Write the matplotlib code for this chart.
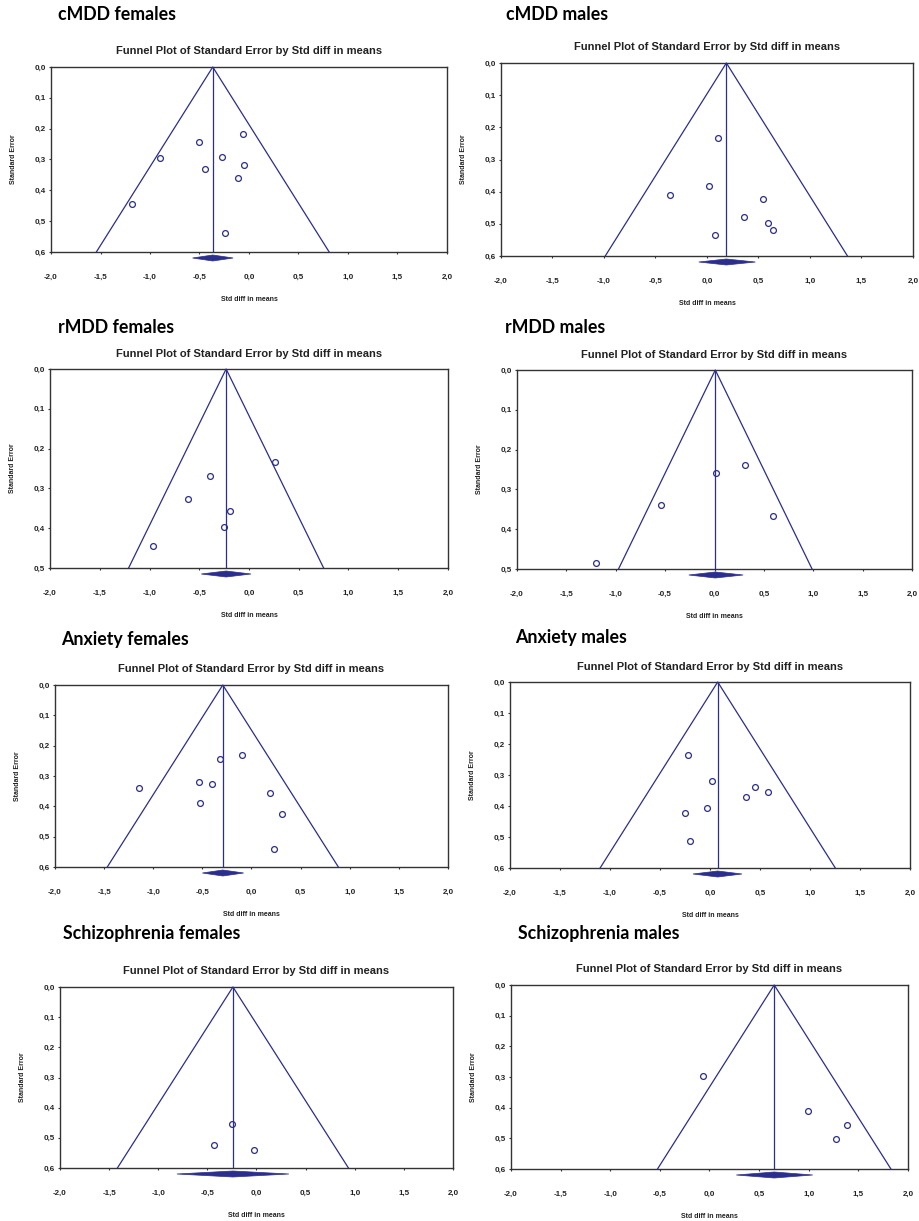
import matplotlib
matplotlib.use("Agg")
import matplotlib.pyplot as plt
from matplotlib.patches import Polygon
from matplotlib import transforms

# ---- data ----
headings = ["cMDD females", "cMDD males",
            "rMDD females", "rMDD males",
            "Anxiety females", "Anxiety males",
            "Schizophrenia females", "Schizophrenia males"]

# std diff in means / standard error of each study
cmdd_f_smd = [-0.06, -0.51, -0.90, -0.27, -0.05, -0.44, -0.11, -1.18, -0.24]
cmdd_f_se = [0.217, 0.242, 0.296, 0.293, 0.317, 0.332, 0.361, 0.445, 0.537]

cmdd_m_smd = [0.11, 0.02, -0.36, 0.54, 0.36, 0.59, 0.64, 0.08]
cmdd_m_se = [0.234, 0.381, 0.411, 0.424, 0.480, 0.496, 0.519, 0.535]

rmdd_f_smd = [0.26, -0.39, -0.61, -0.19, -0.25, -0.96]
rmdd_f_se = [0.234, 0.270, 0.327, 0.357, 0.398, 0.444]

rmdd_m_smd = [0.31, 0.015, -0.54, 0.59, -1.20]
rmdd_m_se = [0.238, 0.259, 0.339, 0.366, 0.486]

anx_f_smd = [-0.10, -0.32, -1.15, -0.53, -0.40, -0.52, 0.19, 0.31, 0.23]
anx_f_se = [0.230, 0.243, 0.341, 0.319, 0.326, 0.389, 0.356, 0.426, 0.540]

anx_m_smd = [-0.22, 0.02, 0.45, 0.58, 0.36, -0.03, -0.25, -0.20]
anx_m_se = [0.234, 0.318, 0.338, 0.354, 0.370, 0.407, 0.422, 0.513]

scz_f_smd = [-0.25, -0.43, -0.03]
scz_f_se = [0.455, 0.523, 0.539]

scz_m_smd = [-0.07, 0.99, 1.39, 1.27]
scz_m_se = [0.298, 0.412, 0.455, 0.502]

smd_all = [cmdd_f_smd, cmdd_m_smd, rmdd_f_smd, rmdd_m_smd,
           anx_f_smd, anx_m_smd, scz_f_smd, scz_m_smd]
se_all = [cmdd_f_se, cmdd_m_se, rmdd_f_se, rmdd_m_se,
          anx_f_se, anx_m_se, scz_f_se, scz_m_se]

# pooled estimate and its 95% CI (the diamond)
pooled = [-0.366, 0.188, -0.23, 0.008, -0.292, 0.077, -0.24, 0.652]
ci_low = [-0.57, -0.08, -0.48, -0.26, -0.50, -0.17, -0.81, 0.27]
ci_high = [-0.16, 0.47, 0.02, 0.29, -0.08, 0.32, 0.33, 1.04]
se_max = [0.6, 0.6, 0.5, 0.5, 0.6, 0.6, 0.6, 0.6]

x_ticks = [-2.0, -1.5, -1.0, -0.5, 0.0, 0.5, 1.0, 1.5, 2.0]

# ---- layout (pixels) ----
W, H = 920, 1221
# left, top, right, bottom of every plot box
boxes = [(51, 67, 447, 252), (501, 63, 913, 256),
         (50, 369, 448, 568), (517, 370, 912, 569),
         (55, 685, 448, 867), (510, 682, 910, 868),
         (60, 987, 453, 1168), (511, 985, 908, 1169)]
head_pos = [(58, 14), (506, 14), (58, 327), (505, 327),
            (61, 639), (515, 637), (63, 934), (518, 934)]

NAVY = '#2B2E8C'
fmt = lambda v: f"{v:.1f}".replace('.', ',')

fig = plt.figure(figsize=(W / 100, H / 100), dpi=100)
fig.patch.set_facecolor('white')

for i in range(8):
    l, t, r, b = boxes[i]
    ax = fig.add_axes([l / W, 1 - b / H, (r - l) / W, (b - t) / H])
    smax = se_max[i]
    c = pooled[i]

    # funnel + centre line
    ax.plot([c - 1.96 * smax, c, c + 1.96 * smax], [smax, 0, smax],
            color=NAVY, lw=0.9, clip_on=False, zorder=3)
    ax.plot([c, c], [0, smax], color=NAVY, lw=0.9, zorder=3)

    # studies
    ax.plot(smd_all[i], se_all[i], 'o', mfc='none', mec=NAVY, ms=4.2,
            mew=0.9, zorder=4)

    # summary diamond just below the frame
    trans = transforms.blended_transform_factory(ax.transData, ax.transAxes)
    ph = (b - t)
    y0 = -6.0 / ph
    dh = 3.0 / ph
    dia = Polygon([(ci_low[i], y0), (c, y0 + dh), (ci_high[i], y0), (c, y0 - dh)],
                  closed=True, facecolor=NAVY, edgecolor=NAVY, lw=0.5,
                  transform=trans, clip_on=False)
    ax.add_patch(dia)

    ax.set_xlim(-2.0, 2.0)
    ax.set_ylim(smax, 0)
    ax.set_xticks(x_ticks)
    ax.set_xticklabels([fmt(v) for v in x_ticks])
    y_ticks = [k / 10 for k in range(int(round(smax * 10)) + 1)]
    ax.set_yticks(y_ticks)
    ax.set_yticklabels([fmt(v) for v in y_ticks])

    for lab in ax.get_xticklabels() + ax.get_yticklabels():
        lab.set_fontfamily('Liberation Sans')
        lab.set_fontweight('bold')
        lab.set_fontsize(5.8)
        lab.set_color('#222222')
    ax.tick_params(axis='x', direction='out', length=1.5, width=0.8, pad=14, color='#333333')
    ax.tick_params(axis='y', direction='out', length=1.5, width=0.8, pad=2, color='#333333')

    for sp in ax.spines.values():
        sp.set_color('#333333')
        sp.set_linewidth(1.0)

    ax.set_title('Funnel Plot of Standard Error by Std diff in means',
                 fontfamily='Liberation Sans', fontweight='bold', fontsize=8,
                 color='#222222', pad=9)
    ax.set_xlabel('Std diff in means', fontfamily='Liberation Sans',
                  fontweight='bold', fontsize=5, color='#222222', labelpad=11)
    ax.set_ylabel('Standard Error', fontfamily='Liberation Sans',
                  fontweight='bold', fontsize=5, color='#222222', labelpad=13)

    hx, hy = head_pos[i]
    fig.text(hx / W, 1 - hy / H, headings[i], fontfamily='Lato',
             fontweight='bold', fontsize=12.8, color='black',
             ha='left', va='center')

fig.savefig('out.png', dpi=100, facecolor='white')
